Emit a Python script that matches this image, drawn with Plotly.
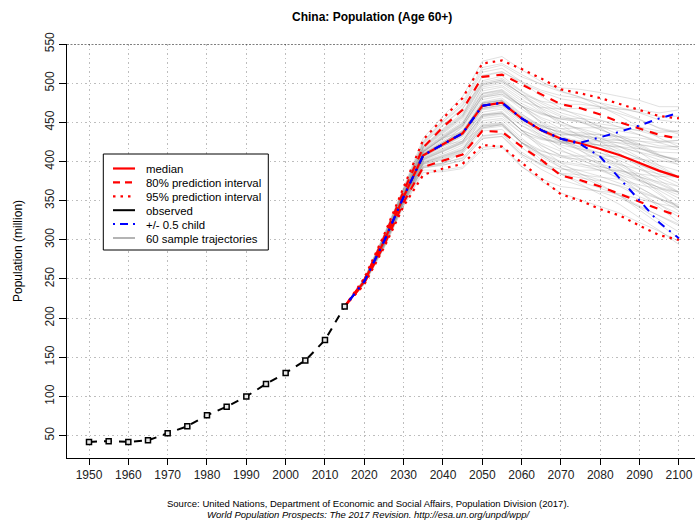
import plotly.graph_objects as go

W, H = 695, 522
ML, MR, MT, MB = 67, 0, 44, 64

# ---------------- data ----------------
obs_years = [1950, 1955, 1960, 1965, 1970, 1975, 1980, 1985, 1990, 1995, 2000, 2005, 2010, 2015]
obs_pop = [42, 43, 42, 44, 53, 62, 76, 87, 100, 116, 130, 146, 172, 215]

proj_years = [2015, 2020, 2025, 2030, 2035, 2040, 2045, 2050, 2055, 2060,
              2065, 2070, 2075, 2080, 2085, 2090, 2095, 2100]
median = [215, 247, 298, 355, 408, 422, 436, 471, 475, 455, 440, 429, 423, 416, 408, 398, 388, 380]
pi80_up = [215, 249, 303, 362, 418, 444, 466, 508, 511, 498, 485, 473, 468, 460, 450, 442, 434, 429]
pi80_lo = [215, 245, 293, 348, 393, 401, 409, 439, 438, 419, 402, 382, 376, 368, 358, 348, 339, 330]
pi95_up = [215, 251, 306, 367, 428, 455, 481, 525, 529, 518, 506, 492, 487, 481, 473, 465, 458, 455]
pi95_lo = [215, 243, 290, 343, 383, 391, 397, 421, 419, 398, 378, 358, 350, 339, 331, 318, 306, 300]
half_child_up = [215, 247, 298, 355, 408, 422, 436, 471, 475, 455, 440, 429, 424, 431, 438, 446, 455, 462]
half_child_lo = [215, 247, 298, 355, 408, 422, 436, 471, 475, 455, 440, 429, 422, 406, 378, 350, 322, 302]

# 60 sample trajectories, values for 2020..2100 (they start from the last observed value)
traj_years = proj_years[1:]
trajectories = [
    [248, 299, 357, 410, 425, 438, 475, 478, 455, 435, 419, 408, 396, 383, 367, 352, 337],
    [248, 300, 357, 412, 430, 446, 484, 489, 471, 461, 455, 455, 452, 449, 444, 439, 439],
    [246, 297, 353, 404, 416, 426, 460, 462, 440, 430, 425, 425, 425, 424, 421, 418, 419],
    [249, 301, 360, 417, 437, 456, 497, 502, 486, 465, 447, 432, 416, 399, 380, 360, 341],
    [245, 294, 349, 397, 404, 413, 443, 447, 424, 413, 407, 407, 407, 406, 403, 400, 400],
    [250, 305, 364, 424, 450, 471, 514, 519, 502, 483, 468, 457, 443, 428, 412, 395, 380],
    [244, 292, 346, 392, 396, 401, 430, 432, 409, 395, 385, 383, 380, 377, 370, 365, 361],
    [247, 298, 354, 407, 421, 435, 470, 474, 455, 446, 442, 443, 443, 442, 440, 437, 439],
    [251, 307, 367, 430, 458, 483, 528, 534, 517, 502, 490, 482, 470, 458, 444, 430, 419],
    [243, 289, 343, 386, 387, 391, 415, 418, 393, 378, 368, 365, 362, 359, 352, 346, 341],
    [248, 301, 359, 414, 433, 449, 487, 491, 471, 448, 429, 414, 398, 381, 361, 342, 322],
    [246, 296, 351, 402, 413, 424, 457, 460, 440, 417, 398, 385, 371, 356, 338, 321, 302],
    [248, 299, 357, 411, 427, 443, 479, 484, 471, 454, 442, 434, 425, 415, 403, 390, 380],
    [249, 302, 362, 419, 440, 459, 499, 504, 486, 477, 473, 473, 470, 467, 463, 457, 458],
    [246, 295, 351, 399, 406, 415, 446, 449, 424, 402, 384, 371, 358, 345, 328, 312, 294],
    [247, 298, 355, 408, 421, 434, 460, 464, 439, 423, 413, 406, 397, 389, 381, 371, 360],
    [248, 299, 358, 412, 431, 448, 486, 490, 470, 456, 447, 442, 435, 427, 418, 408, 401],
    [246, 295, 351, 401, 410, 421, 452, 455, 436, 428, 424, 426, 427, 427, 426, 424, 427],
    [249, 303, 362, 422, 446, 467, 510, 515, 500, 489, 480, 476, 469, 461, 453, 443, 437],
    [245, 293, 348, 394, 398, 404, 432, 435, 409, 397, 390, 389, 389, 388, 384, 381, 380],
    [248, 302, 361, 418, 438, 457, 498, 502, 486, 467, 451, 439, 425, 410, 393, 376, 361],
    [247, 297, 354, 407, 423, 437, 472, 476, 455, 439, 426, 419, 411, 401, 390, 378, 368],
    [245, 293, 349, 397, 403, 412, 442, 445, 424, 409, 398, 394, 389, 383, 375, 367, 361],
    [248, 301, 359, 415, 434, 451, 490, 495, 477, 469, 467, 468, 468, 467, 466, 462, 466],
    [247, 297, 353, 404, 415, 426, 459, 462, 440, 421, 407, 398, 389, 379, 366, 353, 341],
    [247, 298, 356, 409, 423, 437, 473, 477, 458, 445, 437, 433, 429, 423, 416, 408, 403],
    [249, 303, 362, 420, 442, 462, 503, 509, 490, 476, 466, 460, 453, 444, 434, 424, 417],
    [244, 294, 350, 398, 406, 415, 445, 448, 425, 408, 395, 388, 381, 372, 362, 352, 343],
    [250, 305, 365, 426, 453, 476, 520, 525, 511, 498, 489, 482, 474, 464, 454, 442, 435],
    [244, 290, 344, 389, 389, 393, 418, 420, 394, 375, 360, 351, 343, 334, 322, 311, 298],
    [247, 298, 355, 408, 422, 445, 482, 486, 471, 450, 433, 421, 407, 392, 375, 358, 341],
    [248, 300, 358, 413, 430, 438, 474, 478, 455, 444, 438, 437, 434, 431, 426, 420, 419],
    [246, 296, 352, 403, 414, 425, 468, 472, 455, 438, 425, 416, 407, 397, 384, 372, 361],
    [245, 292, 347, 393, 397, 412, 443, 447, 424, 410, 400, 396, 393, 388, 380, 374, 368],
    [249, 304, 363, 423, 447, 468, 499, 504, 486, 471, 459, 451, 441, 431, 418, 406, 396],
    [247, 297, 354, 406, 419, 432, 466, 469, 449, 439, 434, 435, 434, 432, 430, 426, 427],
    [247, 297, 353, 405, 417, 429, 463, 467, 446, 431, 421, 416, 411, 404, 395, 387, 380],
    [248, 300, 357, 412, 429, 445, 482, 486, 467, 451, 438, 429, 420, 409, 396, 383, 372],
    [245, 293, 348, 396, 402, 410, 439, 441, 418, 399, 384, 374, 366, 356, 343, 331, 318],
    [249, 302, 361, 418, 439, 458, 509, 514, 502, 491, 484, 481, 475, 469, 462, 453, 450],
    [247, 298, 356, 409, 424, 438, 474, 478, 458, 440, 425, 414, 403, 391, 377, 363, 349],
    [246, 296, 352, 402, 412, 423, 455, 458, 436, 420, 408, 401, 394, 386, 376, 366, 357],
    [248, 300, 358, 414, 432, 449, 487, 492, 474, 462, 454, 450, 445, 439, 434, 426, 423],
    [247, 298, 355, 407, 421, 426, 459, 462, 446, 434, 426, 424, 421, 418, 412, 406, 403],
    [245, 291, 346, 392, 395, 402, 429, 432, 407, 390, 377, 369, 361, 353, 342, 331, 320],
    [248, 301, 359, 416, 436, 454, 493, 497, 480, 463, 450, 441, 430, 419, 405, 392, 380],
    [247, 298, 354, 407, 420, 434, 468, 472, 452, 432, 415, 403, 391, 377, 361, 345, 329],
    [247, 299, 356, 410, 425, 440, 476, 481, 461, 443, 428, 418, 407, 395, 380, 366, 353],
    [246, 295, 351, 400, 408, 418, 449, 453, 430, 409, 392, 381, 369, 357, 341, 326, 310],
    [250, 305, 364, 425, 451, 473, 517, 523, 508, 499, 494, 492, 488, 483, 478, 470, 470],
    [246, 294, 350, 399, 407, 416, 447, 450, 427, 414, 405, 403, 400, 396, 390, 384, 380],
    [247, 299, 356, 410, 425, 439, 475, 479, 460, 446, 436, 432, 426, 419, 411, 402, 396],
    [248, 300, 358, 413, 431, 447, 495, 500, 483, 468, 457, 450, 441, 431, 420, 408, 400],
    [246, 296, 352, 403, 413, 424, 445, 447, 424, 406, 392, 384, 376, 368, 355, 345, 333],
    [247, 298, 355, 408, 422, 436, 471, 475, 455, 441, 431, 426, 420, 413, 404, 395, 388],
    [249, 302, 361, 419, 441, 460, 501, 506, 489, 474, 462, 455, 445, 434, 422, 409, 400],
    [245, 294, 350, 398, 405, 414, 458, 461, 440, 429, 423, 423, 421, 419, 416, 412, 411],
    [248, 300, 357, 413, 430, 446, 483, 488, 471, 460, 454, 452, 448, 444, 439, 432, 431],
    [245, 292, 347, 394, 398, 405, 433, 436, 412, 396, 384, 379, 375, 369, 360, 352, 345],
    [247, 297, 354, 406, 419, 433, 467, 471, 452, 441, 434, 433, 430, 427, 422, 417, 415],
]

x_ticks = list(range(1950, 2101, 10))
y_ticks = list(range(50, 551, 50))

title_text = "China: Population (Age 60+)"
y_title = "Population (million)"
source_1 = "Source: United Nations, Department of Economic and Social Affairs, Population Division (2017)."
source_2 = "<i>World Population Prospects: The 2017 Revision. http://esa.un.org/unpd/wpp/</i>"
legend_labels = ["median", "80% prediction interval", "95% prediction interval",
                 "observed", "+/- 0.5 child", "60 sample trajectories"]

# ---------------- styling ----------------
RED = "#ff0000"
BLUE = "#0000ff"
GRAY = "rgba(140,140,140,0.26)"
DASH = "8px,7px"
DOT = "2.5px,5px"
DASHDOT = "2px,6px,8px,6px"
FONT = "Liberation Sans, Arial, sans-serif"

PW = W - ML - MR
PH = H - MT - MB


def px_x(px):
    return (px - ML) / PW


def px_y(py):
    return (H - MB - py) / PH


fig = go.Figure()

# sample trajectories
for tr in trajectories:
    fig.add_trace(go.Scatter(
        x=[obs_years[-1]] + traj_years, y=[obs_pop[-1]] + tr, mode="lines",
        line=dict(color=GRAY, width=1), hoverinfo="skip", showlegend=False))

# median and intervals
fig.add_trace(go.Scatter(x=proj_years, y=median, mode="lines",
                         line=dict(color=RED, width=2.2), showlegend=False))
for series, dash in [(pi80_up, DASH), (pi80_lo, DASH), (pi95_up, DOT), (pi95_lo, DOT)]:
    fig.add_trace(go.Scatter(x=proj_years, y=series, mode="lines",
                             line=dict(color=RED, width=2.2, dash=dash), showlegend=False))

# +/- 0.5 child
for series in [half_child_up, half_child_lo]:
    fig.add_trace(go.Scatter(x=proj_years, y=series, mode="lines",
                             line=dict(color=BLUE, width=2, dash=DASHDOT), showlegend=False))

# observed
fig.add_trace(go.Scatter(x=obs_years, y=obs_pop, mode="lines+markers",
                         line=dict(color="black", width=2, dash=DASH),
                         marker=dict(symbol="square", size=5, color="#e8e8e8",
                                     line=dict(color="black", width=1.5)),
                         showlegend=False))

x0 = 1950 - (89 - ML) / 3.933
x1 = x0 + PW / 3.933
y_top = 550
y_bot = y_top - PH / 0.7833

grid = dict(showgrid=True, gridcolor="#bdbdbd", griddash="1.5px,3px", gridwidth=1, zeroline=False)
fig.update_xaxes(range=[x0, x1], tickvals=x_ticks, ticks="outside", ticklen=6, tickwidth=1,
                 tickcolor="black", showline=True, linecolor="black", linewidth=1,
                 tickfont=dict(family=FONT, size=12, color="#222"), automargin=False, **grid)
fig.update_yaxes(range=[y_bot, y_top], tickvals=y_ticks, ticks="outside", ticklen=7, tickwidth=1,
                 tickcolor="black", showline=True, linecolor="black", linewidth=1, tickangle=-90,
                 tickfont=dict(family=FONT, size=12, color="#222"), automargin=False, **grid)

shapes = [
    # top dotted boundary at 550
    dict(type="line", xref="paper", yref="y", x0=0, x1=1, y0=550, y1=550,
         line=dict(color="black", width=1, dash="2px,1.5px"), layer="above"),
    # legend box
    dict(type="rect", xref="paper", yref="paper", x0=px_x(103.3), x1=px_x(268.3),
         y0=px_y(250), y1=px_y(154), line=dict(color="black", width=1),
         fillcolor="white", layer="above"),
]
legend_styles = [
    dict(color=RED, width=2.2),
    dict(color=RED, width=2.2, dash="7px,5px"),
    dict(color=RED, width=2.2, dash="2.5px,5px"),
    dict(color="black", width=2),
    dict(color=BLUE, width=2, dash="2px,5px,8px,5px"),
    dict(color="#b4b4b4", width=2),
]
row_y = [168.5, 182.4, 196.3, 210.2, 224.1, 238.0]
annotations = []
for lab, sty, ry in zip(legend_labels, legend_styles, row_y):
    shapes.append(dict(type="line", xref="paper", yref="paper", x0=px_x(113), x1=px_x(135),
                       y0=px_y(ry), y1=px_y(ry), line=sty, layer="above"))
    annotations.append(dict(text=lab, xref="paper", yref="paper", x=px_x(144), y=px_y(ry + 0.8),
                            xanchor="left", yanchor="middle", showarrow=False,
                            font=dict(family=FONT, size=11.4, color="black")))

annotations += [
    dict(text="<b>" + title_text + "</b>", xref="paper", yref="paper", x=px_x(372), y=px_y(17),
         xanchor="center", yanchor="middle", showarrow=False,
         font=dict(family=FONT, size=12, color="black")),
    dict(text=y_title, xref="paper", yref="paper", x=px_x(18), y=px_y(251), textangle=-90,
         xanchor="center", yanchor="middle", showarrow=False,
         font=dict(family=FONT, size=12, color="black")),
    dict(text=source_1, xref="paper", yref="paper", x=px_x(368), y=px_y(503),
         xanchor="center", yanchor="middle", showarrow=False,
         font=dict(family=FONT, size=9.5, color="black")),
    dict(text=source_2, xref="paper", yref="paper", x=px_x(368), y=px_y(514.5),
         xanchor="center", yanchor="middle", showarrow=False,
         font=dict(family=FONT, size=9.5, color="black")),
]

fig.update_layout(
    width=W, height=H, margin=dict(l=ML, r=MR, t=MT, b=MB, pad=0),
    paper_bgcolor="white", plot_bgcolor="white",
    shapes=shapes, annotations=annotations, showlegend=False,
    font=dict(family=FONT, size=12, color="black"),
)

fig.write_html("out.html", config={"displayModeBar": False, "staticPlot": False},
               post_script="document.body.style.margin='0';document.body.style.overflow='hidden';")
